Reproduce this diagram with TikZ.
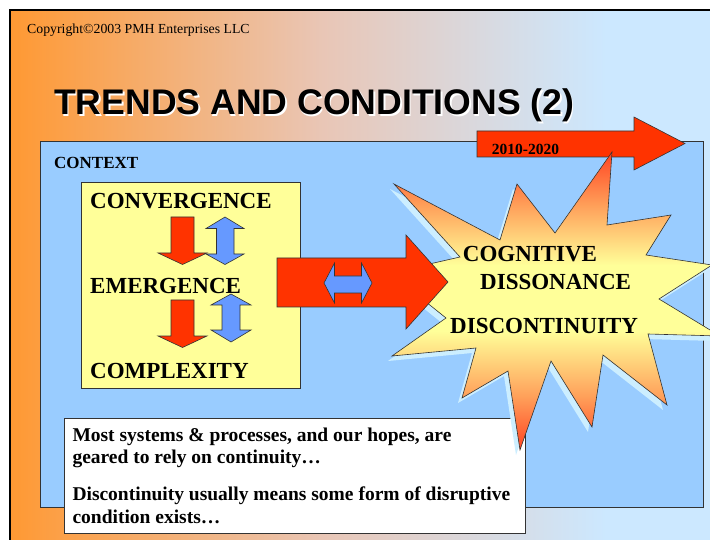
\documentclass[tikz,border=0pt]{standalone}
\usepackage{fontspec}
\setmainfont{Liberation Serif}
\newfontfamily\arialfont{Liberation Sans}
\definecolor{bgor}{HTML}{FF9933}
\definecolor{bgmid}{HTML}{E9C6B6}
\definecolor{bgblue}{HTML}{CCE8FF}
\definecolor{ctxblue}{HTML}{99CCFF}
\definecolor{boxyellow}{HTML}{FFFF99}
\definecolor{arrred}{HTML}{FF3300}
\definecolor{arrblue}{HTML}{6699FF}
\definecolor{shadowblue}{HTML}{CCEEFF}
\definecolor{edgegray}{HTML}{333333}
\definecolor{burstred}{HTML}{FF4422}
\definecolor{burstor}{HTML}{FFA05A}
\pgfdeclarehorizontalshading{bgshade}{100bp}{color(0bp)=(bgor); color(25bp)=(bgor); color(47bp)=(bgmid); color(67bp)=(bgblue); color(100bp)=(bgblue)}
\pgfdeclareverticalshading{burstshade}{100bp}{color(0bp)=(burstred); color(25bp)=(burstred); color(34bp)=(burstor); color(45bp)=(boxyellow); color(56bp)=(boxyellow); color(66bp)=(burstor); color(75bp)=(burstred); color(100bp)=(burstred)}
\tikzset{
  shapeline/.style={draw=edgegray, line width=0.6pt, line join=miter},
  redarrow/.style={shapeline, fill=arrred},
  bluearrow/.style={shapeline, fill=arrblue},
  bigtext/.style={font=\fontsize{23}{26}\selectfont\bfseries, inner sep=0pt, anchor=base west},
  bodytext/.style={font=\fontsize{19.5}{22}\selectfont\bfseries, inner sep=0pt, anchor=base west},
}
\begin{document}
\begin{tikzpicture}[x=1pt,y=-1pt]
\useasboundingbox (0,0) rectangle (710,540);
\clip (0,0) rectangle (710,540);
\fill[white] (0,0) rectangle (710,540);
% slide background
\shade[shading=bgshade] (10,10) rectangle (720,545);
\draw[black, line width=2pt] (10,545) -- (10,10) -- (720,10);
% copyright and title
\node[inner sep=0pt, anchor=base west, font=\fontsize{13.8}{15}\selectfont] (copy) at (27,33.3) {Copyright©2003 PMH Enterprises LLC};
\node[inner sep=0pt, anchor=base west, font=\arialfont\fontsize{35.6}{40}\selectfont\bfseries, text=white] (titleshadow) at (55.5,116.5) {TRENDS AND CONDITIONS (2)};
\node[inner sep=0pt, anchor=base west, font=\arialfont\fontsize{35.6}{40}\selectfont\bfseries] (title) at (54,115) {TRENDS AND CONDITIONS (2)};
% context rectangle
\draw[fill=ctxblue, draw=edgegray, line width=0.8pt] (40,141) rectangle (703,507);
\node[inner sep=0pt, anchor=base west, font=\fontsize{17}{19}\selectfont\bfseries] (context) at (54,168.3) {CONTEXT};
% yellow box
\draw[fill=boxyellow, draw=edgegray, line width=0.8pt] (81.5,182) rectangle (300.5,388);
\node[bigtext] (conv) at (90,209) {CONVERGENCE};
\node[bigtext] (emer) at (90,294) {EMERGENCE};
\node[bigtext] (comp) at (90,378.3) {COMPLEXITY};
% red down arrows
\draw[redarrow] (171,217) -- (194,217) -- (194,253) -- (207,253) -- (182.5,264.5) -- (158,253) -- (171,253) -- cycle;
\draw[redarrow] (171,300) -- (194,300) -- (194,336) -- (207,336) -- (182.5,347.5) -- (158,336) -- (171,336) -- cycle;
% blue up-down arrows
\draw[bluearrow] (225,217) -- (244,228.5) -- (234,228.5) -- (234,254) -- (244,254) -- (225,264.5) -- (206,254) -- (216.5,254) -- (216.5,228.5) -- (206,228.5) -- cycle;
\draw[bluearrow] (231,294) -- (251,305) -- (240,305) -- (240,330) -- (251,330) -- (231,342) -- (211,330) -- (222,330) -- (222,305) -- (211,305) -- cycle;
% bottom text box
\draw[fill=white, draw=edgegray, line width=0.8pt] (64,418.5) rectangle (525,533.5);
\node[bodytext] (t1) at (72.3,441.7) {Most systems \& processes, and our hopes, are};
\node[bodytext] (t2) at (72.3,463) {geared to rely on continuity…};
\node[bodytext] (t3) at (72.3,500) {Discontinuity usually means some form of disruptive};
\node[bodytext] (t4) at (72.3,523) {condition exists…};
% 2010-2020 arrow
\draw[redarrow] (477,131) -- (634,131) -- (634,117) -- (685,143.5) -- (634,170) -- (634,157) -- (477,157) -- cycle;
\node[inner sep=0pt, anchor=base west, font=\fontsize{15.5}{17}\selectfont\bfseries] (years) at (491.7,154.3) {2010-2020};
% starburst shadow
\fill[shadowblue, shift={(-4,5)}] (394,184) -- (500,240) -- (517,184) -- (555,233) -- (612,152) -- (607,225) -- (671,215) -- (646,255) -- (712,265) -- (659,299) -- (720,336) -- (648,334) -- (667,405) -- (603,355) -- (592,427) -- (551,361) -- (520,450) -- (508,371) -- (462,398) -- (476,348) -- (392,356) -- (446,318) -- (390,273) -- (460,257) -- cycle;
% starburst
\draw[shapeline, shading=burstshade] (394,184) -- (500,240) -- (517,184) -- (555,233) -- (612,152) -- (607,225) -- (671,215) -- (646,255) -- (712,265) -- (659,299) -- (720,336) -- (648,334) -- (667,405) -- (603,355) -- (592,427) -- (551,361) -- (520,450) -- (508,371) -- (462,398) -- (476,348) -- (392,356) -- (446,318) -- (390,273) -- (460,257) -- cycle;
% big red arrow with blue double arrow
\draw[redarrow] (277,258) -- (406,258) -- (406,235) -- (448,282) -- (406,329) -- (406,307) -- (277,307) -- cycle;
\draw[bluearrow] (324,283) -- (334.5,263) -- (334.5,276) -- (361.5,276) -- (361.5,263) -- (372,283) -- (361.5,303) -- (361.5,293) -- (334.5,293) -- (334.5,303) -- cycle;
% starburst texts
\node[bigtext] (cog) at (462.7,261.7) {COGNITIVE};
\node[bigtext] (diss) at (480,290) {DISSONANCE};
\node[bigtext] (disc) at (450,333.3) {DISCONTINUITY};
\end{tikzpicture}
\end{document}
